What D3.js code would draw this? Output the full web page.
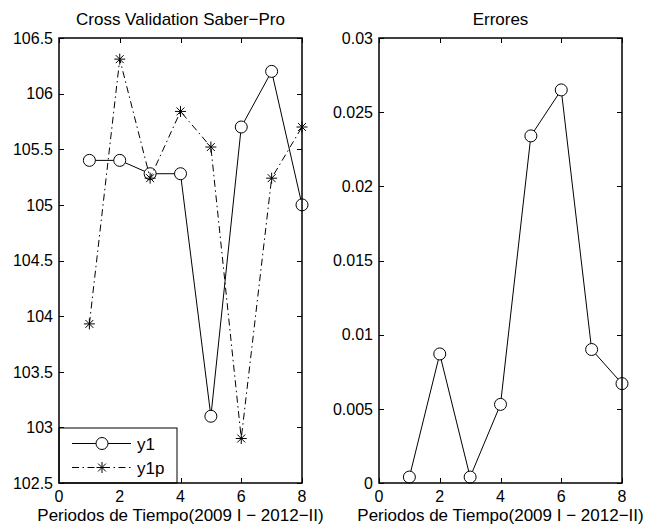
<!DOCTYPE html>
<html>
<head>
<meta charset="utf-8">
<script src="https://cdn.jsdelivr.net/npm/d3@7"></script>
<style>
  html, body { margin: 0; padding: 0; background: #fff; }
  svg { display: block; }
  text { font-family: "Liberation Sans", Arial, Helvetica, sans-serif; fill: #000; }
</style>
</head>
<body>
<svg id="chart" width="648" height="531"></svg>
<script>
// Periods (2009 I – 2012 II)
const periods = [1, 2, 3, 4, 5, 6, 7, 8];
// Cross validation: observed (y1) and predicted (y1p)
const y1  = [105.40, 105.40, 105.28, 105.28, 103.10, 105.70, 106.20, 105.00];
const y1p = [103.93, 106.31, 105.24, 105.84, 105.52, 102.90, 105.24, 105.70];
// Errors per period
const errores = [0.0004, 0.0087, 0.0004, 0.0053, 0.0234, 0.0265, 0.0090, 0.0067];

const xTicks = [0, 2, 4, 6, 8];
const yTicksLeft = [102.5, 103, 103.5, 104, 104.5, 105, 105.5, 106, 106.5];
const yTicksRight = [0, 0.005, 0.01, 0.015, 0.02, 0.025, 0.03];

const svg = d3.select("#chart");
const TICK_FONT = 16;
const LABEL_FONT = 17;
const TICK = 5;

function panel(opts) {
  const { left, right, top, bottom, xDomain, yDomain, yTicks, yFmt, title } = opts;
  const x = d3.scaleLinear().domain(xDomain).range([left, right]);
  const y = d3.scaleLinear().domain(yDomain).range([bottom, top]);
  const g = svg.append("g");

  // ticks (inside, on all four sides)
  const tg = g.append("g").attr("stroke", "#000").attr("stroke-width", 1);
  xTicks.forEach(t => {
    const px = Math.round(x(t)) + 0.5;
    tg.append("line").attr("x1", px).attr("x2", px).attr("y1", bottom).attr("y2", bottom - TICK);
    tg.append("line").attr("x1", px).attr("x2", px).attr("y1", top).attr("y2", top + TICK);
  });
  yTicks.forEach(t => {
    const py = Math.round(y(t)) + 0.5;
    tg.append("line").attr("x1", left).attr("x2", left + TICK).attr("y1", py).attr("y2", py);
    tg.append("line").attr("x1", right).attr("x2", right - TICK).attr("y1", py).attr("y2", py);
  });

  // tick labels
  g.append("g").selectAll("text").data(xTicks).join("text")
    .attr("x", d => x(d)).attr("y", bottom + 19)
    .attr("text-anchor", "middle").attr("font-size", TICK_FONT)
    .text(d => d);
  g.append("g").selectAll("text").data(yTicks).join("text")
    .attr("x", left - 6).attr("y", d => y(d)).attr("dy", "0.36em")
    .attr("text-anchor", "end").attr("font-size", TICK_FONT)
    .text(yFmt);

  // title and x label
  g.append("text").attr("x", (left + right) / 2).attr("y", 25)
    .attr("text-anchor", "middle").attr("font-size", LABEL_FONT).text(title);
  g.append("text").attr("x", (left + right) / 2).attr("y", 521)
    .attr("text-anchor", "middle").attr("font-size", LABEL_FONT)
    .text("Periodos de Tiempo(2009 I \u2212 2012\u2212II)");

  return { g, x, y, left, right, top, bottom };
}

function drawSeries(p, values, marker, dash) {
  const line = d3.line().x((d, i) => p.x(periods[i])).y(d => p.y(d));
  p.g.append("path").datum(values)
    .attr("d", line).attr("fill", "none").attr("stroke", "#000")
    .attr("stroke-width", 1)
    .attr("stroke-dasharray", dash || null);
  values.forEach((v, i) => drawMarker(p.g, p.x(periods[i]), p.y(v), marker));
}

function drawMarker(g, cx, cy, marker) {
  if (marker === "circle") {
    g.append("circle").attr("cx", cx).attr("cy", cy).attr("r", 6)
      .attr("fill", "#fff").attr("stroke", "#000").attr("stroke-width", 1);
  } else {
    const r = 5.5, d = r * 0.72;
    const path = `M${cx - r},${cy}H${cx + r}M${cx},${cy - r}V${cy + r}` +
      `M${cx - d},${cy - d}L${cx + d},${cy + d}M${cx - d},${cy + d}L${cx + d},${cy - d}`;
    g.append("path").attr("d", path).attr("stroke", "#000").attr("stroke-width", 1).attr("fill", "none");
  }
}

function frame(p) {
  p.g.append("rect")
    .attr("x", p.left).attr("y", p.top)
    .attr("width", p.right - p.left).attr("height", p.bottom - p.top)
    .attr("fill", "none").attr("stroke", "#000").attr("stroke-width", 1.5);
}

const DASHDOT = "7,3.5,1.5,3.5";

// Left panel: cross validation
const pL = panel({
  left: 59, right: 302, top: 38, bottom: 483,
  xDomain: [0, 8], yDomain: [102.5, 106.5],
  yTicks: yTicksLeft, yFmt: d => d3.format("")(d),
  title: "Cross Validation Saber\u2212Pro"
});
drawSeries(pL, y1, "circle");
drawSeries(pL, y1p, "star", DASHDOT);

// legend
const lg = pL.g.append("g");
lg.append("rect").attr("x", pL.left).attr("y", 428).attr("width", 118).attr("height", pL.bottom - 428)
  .attr("fill", "#fff").attr("stroke", "#000").attr("stroke-width", 1);
const legendItems = [
  { name: "y1", marker: "circle", dash: null, yy: 443.5 },
  { name: "y1p", marker: "star", dash: DASHDOT, yy: 467.5 }
];
legendItems.forEach(it => {
  lg.append("line").attr("x1", 72).attr("x2", 131).attr("y1", it.yy).attr("y2", it.yy)
    .attr("stroke", "#000").attr("stroke-width", 1).attr("stroke-dasharray", it.dash);
  drawMarker(lg, 102, it.yy, it.marker);
  lg.append("text").attr("x", 137).attr("y", it.yy).attr("dy", "0.36em")
    .attr("font-size", LABEL_FONT).text(it.name);
});
frame(pL);

// Right panel: errors
const pR = panel({
  left: 379, right: 622, top: 38, bottom: 483,
  xDomain: [0, 8], yDomain: [0, 0.03],
  yTicks: yTicksRight, yFmt: d => d === 0 ? "0" : String(+d.toFixed(3)),
  title: "Errores"
});
drawSeries(pR, errores, "circle");
frame(pR);
</script>
</body>
</html>
